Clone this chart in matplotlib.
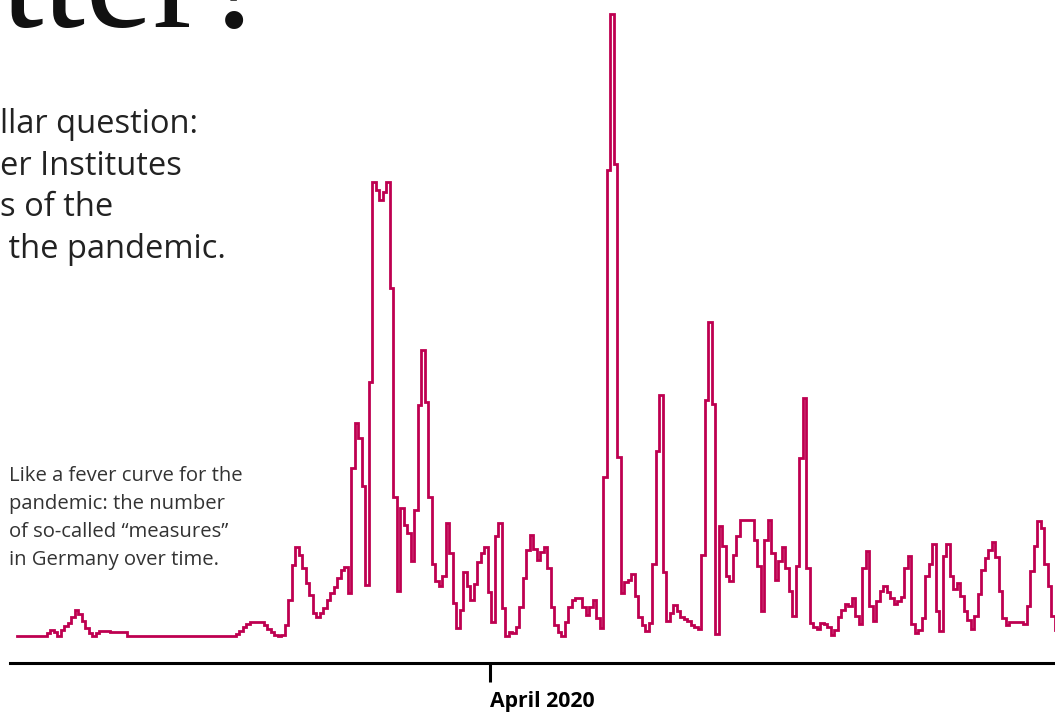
import pandas as pd
import matplotlib.pyplot as plt

# measures per half day, starting late January 2020
start = "2020-01-24 12:00"
measures = [
    0, 0, 0, 0, 0, 0, 0, 0, 0,
    3, 6, 4, 0, 6, 10, 13, 19, 26, 22, 15, 8, 3,
    0, 3, 5, 5, 5, 4, 4, 4, 4, 4,
    0, 0, 0, 0, 0, 0, 0, 0, 0, 0, 0, 0, 0, 0, 0, 0,
    0, 0, 0, 0, 0, 0, 0, 0, 0, 0, 0, 0, 0, 0, 0,
    2, 5, 9, 12, 14, 14, 14, 14, 11, 7, 4, 1, 0, 1,
    11, 36, 71, 89, 81, 68, 53, 41, 23, 19, 23, 28, 36, 43, 49, 58, 66, 69,
    43, 168, 213, 198, 150, 51, 254, 454, 446, 436, 444, 454, 348, 139,
    45, 128, 111, 103, 75, 126, 231, 286, 234, 139, 72, 55, 50, 60,
    113, 83, 33, 8, 26, 64, 50, 36, 52, 74, 83, 89,
    44, 14, 100, 113,
    28, 0, 4, 3, 9, 29, 58, 86, 101, 87, 76, 84, 89, 68, 29, 11, 4, 0, 14, 29,
    36, 38, 38, 29, 21, 29, 36, 18, 8,
    159, 466, 622, 472, 179, 43, 54, 56, 62, 40, 19, 11, 5, 13,
    72, 185, 241, 64, 15, 23, 31, 25, 19, 17, 15, 11, 9, 7,
    81, 236, 314, 232, 2, 110, 90, 60, 55, 81, 100, 116, 116, 116, 116, 96, 70, 25,
    96, 116, 83, 56, 75, 89, 68, 45, 20, 70, 178, 238, 68, 13,
    9, 7, 13, 12, 9, 1, 6, 19, 26, 32, 30, 38, 20, 12,
    68, 85, 30, 15, 35, 45, 50, 44, 38, 32, 35, 39, 68, 80, 12, 3, 6,
    18, 60, 72, 92, 25, 5, 80, 92, 60, 47, 53, 40, 25, 16, 7,
    20, 42, 66, 78, 86, 94, 79, 45, 18, 11, 14, 14, 14, 14, 12,
    30, 65, 90, 115, 108, 72, 50, 20, 6, 10, 20,
]
tick_dates = ["2020-04-01"]
tick_labels = ["April 2020"]

title_part = "tter?"
intro_lines = ["llar question:", "er Institutes", "s of the", " the pandemic."]
note_lines = [
    "Like a fever curve for the",
    "pandemic: the number",
    "of so-called \u201cmeasures\u201d",
    "in Germany over time.",
]

dates = pd.date_range(start, periods=len(measures), freq="12h")

plt.rcParams["font.family"] = ["Open Sans", "DejaVu Sans"]

W, H = 1055, 712
fig = plt.figure(figsize=(W / 100, H / 100), dpi=100)

# big serif headline, mostly cut off at the top
fig.text(0, 1 - 27 / H, title_part, family=["Liberation Serif", "DejaVu Serif"],
         fontsize=110, color="#111111", va="baseline", ha="left")

for k, line in enumerate(intro_lines):
    fig.text(0, 1 - (133 + 41.7 * k) / H, line, fontsize=23.5,
             color="#222222", va="baseline", ha="left")

ax = fig.add_axes([10 / W, 49 / H, 1045 / W, 663 / H])
ax.patch.set_alpha(0)

for k, line in enumerate(note_lines):
    fig.text(9 / W, 1 - (481 + 28 * k) / H, line, fontsize=14.6,
             color="#333333", va="baseline", ha="left")

ax.plot(dates, measures, drawstyle="steps-mid", color="#BE0050", lw=2,
        solid_joinstyle="miter")

x0 = dates[0] - pd.Timedelta(days=1)
ax.set_xlim(x0, x0 + pd.Timedelta(days=1045 / 7))
ax.set_ylim(-27, 636)

for s in ["top", "left", "right"]:
    ax.spines[s].set_visible(False)
ax.spines["bottom"].set_linewidth(2.2)
ax.spines["bottom"].set_color("black")
ax.set_yticks([])
ax.set_xticks(pd.to_datetime(tick_dates))
ax.set_xticklabels(tick_labels, fontweight="bold", fontsize=15.3, ha="left")
ax.tick_params(axis="x", direction="out", length=14, width=2.2, color="black",
               pad=6)

fig.savefig("out.png", dpi=100)
